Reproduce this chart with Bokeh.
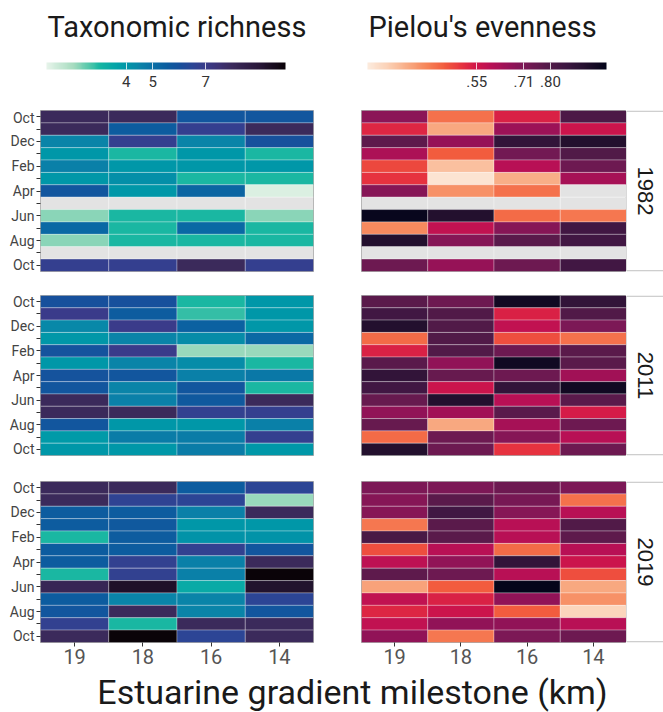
import numpy as np
from bokeh.plotting import figure
from bokeh.models import (ColumnDataSource, LinearColorMapper, ColorBar, FixedTicker,
                          FactorRange, Range1d, Label)
from bokeh.layouts import column, row
from bokeh.embed import file_html
from bokeh.resources import INLINE
from bokeh.core.properties import value
from bokeh.core.validation import silence
from bokeh.core.validation.warnings import MISSING_RENDERERS

silence(MISSING_RENDERERS, True)

nan = float("nan")

months = ["Oct", "Nov", "Dec", "Jan", "Feb", "Mar", "Apr",
          "May", "Jun", "Jul", "Aug", "Sep", "Oct"]
milestones = ["19", "18", "16", "14"]
years = ["1982", "2011", "2019"]

richness_ticks = [4, 5, 7]
evenness_ticks = [0.55, 0.71, 0.80]
evenness_tick_labels = [".55", ".71", ".80"]

# rows: Oct .. Oct, columns: milestones 19, 18, 16, 14
richness_1982 = [
    [8.0, 8.0, 5.8, 5.8],
    [8.0, 5.6, 6.8, 8.0],
    [4.5, 6.8, 4.5, 6.0],
    [4.0, 3.0, 4.0, 3.0],
    [4.6, 4.0, 4.0, 4.0],
    [4.0, 4.2, 3.0, 3.0],
    [5.8, 4.0, 5.3, 1.2],
    [nan, nan, nan, nan],
    [2.2, 3.0, 3.0, 2.2],
    [5.2, 3.0, 5.2, 3.0],
    [2.2, 3.0, 3.0, 3.0],
    [nan, nan, nan, nan],
    [6.8, 6.8, 8.0, 6.8],
]
richness_2011 = [
    [6.0, 6.0, 3.0, 4.0],
    [7.0, 5.6, 2.8, 4.0],
    [4.4, 7.0, 5.4, 4.0],
    [4.0, 4.5, 4.3, 5.2],
    [5.9, 7.0, 2.1, 2.1],
    [4.0, 4.5, 4.3, 3.0],
    [5.9, 5.8, 4.6, 4.8],
    [5.8, 4.5, 5.8, 3.0],
    [8.0, 4.6, 5.7, 8.0],
    [8.0, 8.0, 6.7, 6.8],
    [5.8, 4.0, 4.0, 4.6],
    [3.9, 4.7, 4.7, 6.8],
    [4.0, 4.0, 4.7, 4.0],
]
richness_2019 = [
    [8.0, 8.0, 5.6, 6.5],
    [8.0, 6.6, 6.5, 2.1],
    [5.6, 5.6, 4.6, 8.0],
    [5.6, 5.7, 4.0, 4.0],
    [3.0, 5.6, 4.1, 4.1],
    [5.6, 5.6, 6.7, 5.8],
    [5.6, 6.7, 4.6, 8.0],
    [3.0, 6.7, 4.6, 10.0],
    [8.2, 9.3, 3.4, 9.2],
    [5.6, 4.5, 4.5, 6.5],
    [5.8, 8.0, 4.5, 5.8],
    [6.7, 3.0, 8.0, 8.0],
    [8.0, 10.0, 6.5, 8.0],
]

evenness_1982 = [
    [0.68, 0.41, 0.53, 0.81],
    [0.52, 0.32, 0.65, 0.56],
    [0.77, 0.66, 0.88, 0.92],
    [0.62, 0.44, 0.73, 0.80],
    [0.47, 0.28, 0.60, 0.74],
    [0.50, 0.20, 0.31, 0.63],
    [0.69, 0.36, 0.41, nan],
    [nan, nan, nan, nan],
    [0.98, 0.92, 0.42, 0.40],
    [0.37, 0.58, 0.69, 0.84],
    [0.92, 0.69, 0.78, 0.84],
    [nan, nan, nan, nan],
    [0.74, 0.66, 0.74, 0.84],
]
evenness_2011 = [
    [0.78, 0.74, 0.96, 0.88],
    [0.84, 0.80, 0.53, 0.80],
    [0.92, 0.80, 0.58, 0.71],
    [0.42, 0.80, 0.46, 0.41],
    [0.53, 0.80, 0.74, 0.78],
    [0.78, 0.67, 0.96, 0.78],
    [0.88, 0.75, 0.74, 0.64],
    [0.84, 0.56, 0.88, 0.96],
    [0.75, 0.92, 0.60, 0.78],
    [0.67, 0.64, 0.78, 0.54],
    [0.75, 0.32, 0.63, 0.74],
    [0.42, 0.74, 0.69, 0.60],
    [0.92, 0.74, 0.50, 0.74],
]
evenness_2019 = [
    [0.71, 0.71, 0.74, 0.71],
    [0.69, 0.78, 0.72, 0.41],
    [0.69, 0.84, 0.69, 0.60],
    [0.40, 0.78, 0.60, 0.80],
    [0.82, 0.78, 0.60, 0.77],
    [0.46, 0.60, 0.42, 0.60],
    [0.59, 0.67, 0.88, 0.56],
    [0.77, 0.74, 0.60, 0.46],
    [0.33, 0.44, 0.99, 0.32],
    [0.58, 0.53, 0.67, 0.36],
    [0.52, 0.56, 0.44, 0.24],
    [0.58, 0.67, 0.67, 0.60],
    [0.67, 0.40, 0.71, 0.74],
]

richness = {"1982": richness_1982, "2011": richness_2011, "2019": richness_2019}
evenness = {"1982": evenness_1982, "2011": evenness_2011, "2019": evenness_2019}

FONT = "Roboto"


def ramp(stops, lo, hi, n=256):
    """Piecewise-linear colour ramp sampled over [lo, hi]."""
    pos = np.array([s[0] for s in stops], dtype=float)
    rgb = np.array([[int(c[i:i + 2], 16) for i in (1, 3, 5)] for _, c in stops], dtype=float)
    t = np.linspace(lo, hi, n)
    out = np.stack([np.interp(t, pos, rgb[:, k]) for k in range(3)], axis=1)
    return ["#%02x%02x%02x" % tuple(int(round(v)) for v in c) for c in out]


# mint -> teal -> blue -> indigo -> black
mako_stops = [
    (1.0, "#e6f4ea"), (2.0, "#a6dcbf"), (2.6, "#52c7aa"), (3.0, "#16b6a2"),
    (3.6, "#03a4a8"), (4.0, "#0097a8"), (4.5, "#0a84a8"), (5.0, "#0a70a6"),
    (5.5, "#0b5ea0"), (6.0, "#17509c"), (6.5, "#2c4595"), (7.0, "#3a3b8a"),
    (7.5, "#3d3274"), (8.0, "#3b2a5c"), (9.0, "#291739"), (10.0, "#0a0308"),
]
# peach -> orange -> red -> crimson -> purple -> black
rocket_stops = [
    (0.18, "#fcebdd"), (0.25, "#fbd0b4"), (0.32, "#f8a880"), (0.38, "#f68458"),
    (0.44, "#f25c3e"), (0.50, "#e6323f"), (0.55, "#d0154a"), (0.60, "#b81055"),
    (0.66, "#961257"), (0.71, "#7c1856"), (0.76, "#631a4e"), (0.80, "#511a48"),
    (0.86, "#3a1640"), (0.92, "#23102e"), (0.99, "#04051a"),
]

rich_lo, rich_hi = 1.0, 10.0
even_lo, even_hi = 0.18, 0.99
rich_mapper = LinearColorMapper(palette=ramp(mako_stops, rich_lo, rich_hi),
                                low=rich_lo, high=rich_hi, nan_color="#e3e3e3")
even_mapper = LinearColorMapper(palette=ramp(rocket_stops, even_lo, even_hi),
                                low=even_lo, high=even_hi, nan_color="#e3e3e3")

FRAME_H = {"1982": 161, "2011": 160, "2019": 161}
BORDER_TOP = {"1982": 1, "2011": 12, "2019": 14}
BORDER_BOTTOM = {"1982": 12, "2011": 12, "2019": 28}


def cell_source(grid):
    xs, ys, vs = [], [], []
    for r, vals in enumerate(grid):
        for c, v in enumerate(vals):
            xs.append(milestones[c])
            ys.append(r)
            vs.append(v)
    return ColumnDataSource(dict(x=xs, y=ys, v=np.array(vs, dtype=float)))


def heat_panel(grid, mapper, year, left_axis, left, right, fw):
    bottom_axis = year == years[-1]
    p = figure(x_range=FactorRange(*milestones), y_range=Range1d(len(months) - 0.5, -0.5),
               frame_width=fw, frame_height=FRAME_H[year],
               min_border_top=BORDER_TOP[year], min_border_bottom=BORDER_BOTTOM[year],
               min_border_left=left, min_border_right=right,
               toolbar_location=None, output_backend="svg",
               x_axis_location="below" if bottom_axis else None,
               y_axis_location="left" if left_axis else None)
    p.rect(x="x", y="y", width=1, height=1, source=cell_source(grid),
           fill_color={"field": "v", "transform": mapper},
           line_color="white", line_alpha=0.3, line_width=1)
    p.grid.visible = False
    p.outline_line_color = "#999999"
    p.background_fill_color = "white"
    p.border_fill_color = "white"
    if left_axis:
        ax = p.yaxis[0]
        ax.ticker = FixedTicker(ticks=list(range(len(months))))
        ax.major_label_overrides = {i: (m if i % 2 == 0 else "") for i, m in enumerate(months)}
        ax.axis_line_color = None
        ax.major_tick_line_color = "#333333"
        ax.major_tick_out = 4
        ax.major_tick_in = 0
        ax.minor_tick_line_color = None
        ax.major_label_standoff = 2
        ax.major_label_text_font = FONT
        ax.major_label_text_font_size = "14px"
        ax.major_label_text_color = "#444444"
    if bottom_axis:
        ax = p.xaxis[0]
        ax.axis_line_color = None
        ax.major_tick_line_color = "#333333"
        ax.major_tick_out = 4
        ax.major_tick_in = 0
        ax.minor_tick_line_color = None
        ax.major_label_standoff = 2
        ax.major_label_text_font = FONT
        ax.major_label_text_font_size = "20px"
        ax.major_label_text_color = "#555555"
    return p


def strip_panel(year):
    p = figure(x_range=Range1d(0, 1), y_range=Range1d(-0.004, 1.004),
               frame_width=37, frame_height=FRAME_H[year],
               min_border_top=BORDER_TOP[year], min_border_bottom=BORDER_BOTTOM[year],
               min_border_left=0, min_border_right=0,
               toolbar_location=None, output_backend="svg",
               x_axis_location=None, y_axis_location=None)
    p.quad(left=[0], right=[1.6], bottom=[0], top=[1],
           fill_color="white", line_color="#b3b3b3", line_width=1)
    p.text(x=[0.52], y=[0.5], text=[year], angle=-np.pi / 2,
           text_align="center", text_baseline="middle",
           text_font=value("Liberation Sans"), text_font_size="22px", text_color="#1a1a1a")
    p.grid.visible = False
    p.outline_line_color = None
    p.border_fill_color = "white"
    return p


def header(title, mapper, ticks, labels, width, x0):
    p = figure(width=width, height=109, min_border=0,
               x_range=Range1d(0, 1), y_range=Range1d(0, 1),
               toolbar_location=None, output_backend="svg",
               x_axis_location=None, y_axis_location=None)
    p.grid.visible = False
    p.outline_line_color = None
    p.add_layout(Label(x=x0 + 1, y=83, x_units="screen", y_units="screen", text=title,
                       text_font=FONT, text_font_size="29px", text_color="#1a1a1a",
                       text_baseline="middle"))
    cb = ColorBar(color_mapper=mapper, orientation="horizontal", width=239, height=7,
                  location=(x0, 20), padding=0, ticker=FixedTicker(ticks=ticks),
                  major_label_text_font=FONT, major_label_text_font_size="15px",
                  major_label_text_color="#333333", label_standoff=6,
                  major_tick_line_color="white", major_tick_line_alpha=0.8,
                  major_tick_in=7, major_tick_out=0,
                  bar_line_color=None, border_line_color=None, background_fill_color=None)
    if labels is not None:
        cb.major_label_overrides = {t: s for t, s in zip(ticks, labels)}
    p.add_layout(cb)
    return p


head_l = header("Taxonomic richness", rich_mapper, richness_ticks, None, 330, 46)
head_r = header("Pielou's evenness", even_mapper, evenness_ticks, evenness_tick_labels, 333, 37)

rows = [row(head_l, head_r)]
for yr in years:
    pr = heat_panel(richness[yr], rich_mapper, yr, True, 40, 17, 273)
    pe = heat_panel(evenness[yr], even_mapper, yr, False, 31, 0, 265)
    rows.append(row(pr, pe, strip_panel(yr)))

foot = figure(width=663, height=42, min_border=0,
              x_range=Range1d(0, 1), y_range=Range1d(0, 1),
              toolbar_location=None, output_backend="svg",
              x_axis_location=None, y_axis_location=None)
foot.grid.visible = False
foot.outline_line_color = None
foot.add_layout(Label(x=352, y=21, x_units="screen", y_units="screen",
                      text="Estuarine gradient milestone (km)", text_font=FONT,
                      text_font_size="34px", text_color="#1a1a1a",
                      text_align="center", text_baseline="middle"))
rows.append(foot)

layout = column(*rows)
open("out.html", "w").write(file_html(layout, INLINE))
